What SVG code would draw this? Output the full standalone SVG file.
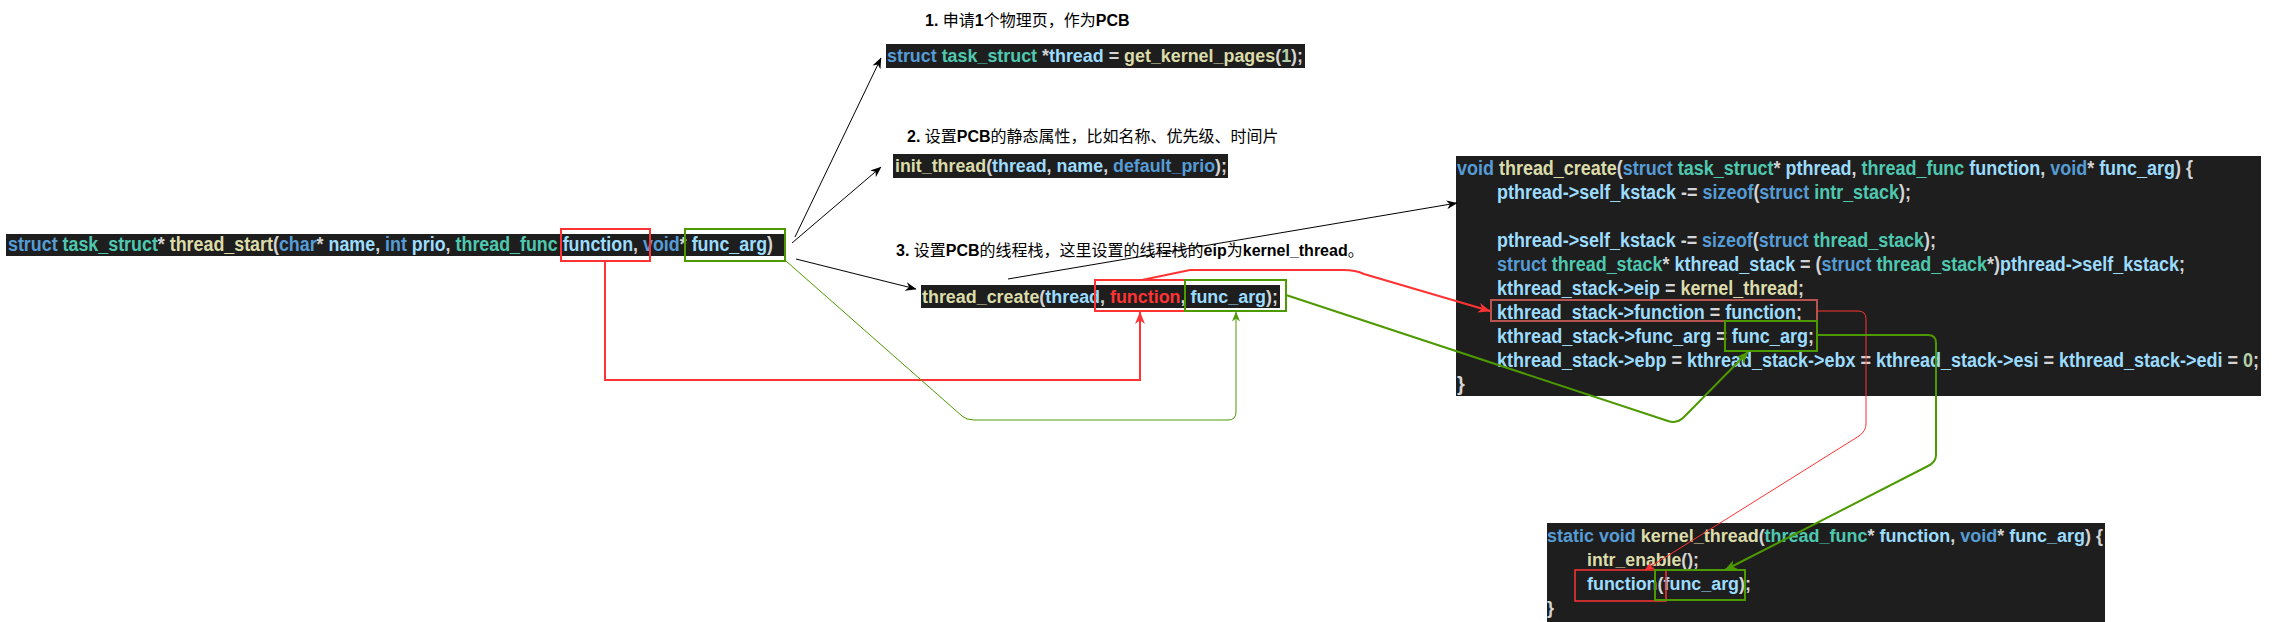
<svg xmlns="http://www.w3.org/2000/svg" width="2276" height="622" viewBox="0 0 2276 622">
<defs>
<style>
text { white-space: pre; }
.code { font-family: "Liberation Sans", Arial, sans-serif; font-weight: bold; }
.c20 { font-size: 20px; }
.c18 { font-size: 18px; }
.title { font-family: "Liberation Sans", "Noto Sans CJK SC", sans-serif; font-size: 16px; fill: #000; }
.b { font-weight: bold; }
.kw { fill: #569CD6; }
.ty { fill: #4EC9B0; }
.fn { fill: #DCDCAA; }
.va { fill: #9CDCFE; }
.pu { fill: #D4D4D4; }
.nu { fill: #B5CEA8; }
.rd { fill: #FF3333; }
.band { fill: #1E1E1E; }
.redbox { fill: none; stroke: #FF3333; stroke-width: 2; }
.grnbox { fill: none; stroke: #4D9900; stroke-width: 2; }
.blk { fill: none; stroke: #000; stroke-width: 1; }
.redln { fill: none; stroke: #FF3333; stroke-width: 2; }
.redthin { fill: none; stroke: #FF3333; stroke-width: 1; }
.grnln { fill: none; stroke: #4D9900; stroke-width: 2; }
.grnthin { fill: none; stroke: #4D9900; stroke-width: 1; }
</style>
<marker id="ahK" viewBox="0 0 10 8" refX="9.5" refY="4" markerWidth="11" markerHeight="9" markerUnits="userSpaceOnUse" orient="auto"><path d="M0,0 L10,4 L0,8 L3,4 Z" fill="#000"/></marker>
<marker id="ahR" viewBox="0 0 10 8" refX="9.5" refY="4" markerWidth="13" markerHeight="10" markerUnits="userSpaceOnUse" orient="auto"><path d="M0,0 L10,4 L0,8 L3,4 Z" fill="#FF3333"/></marker>
<marker id="ahRs" viewBox="0 0 10 8" refX="9.5" refY="4" markerWidth="10" markerHeight="8" markerUnits="userSpaceOnUse" orient="auto"><path d="M0,0 L10,4 L0,8 L3,4 Z" fill="#FF3333"/></marker>
<marker id="ahG" viewBox="0 0 10 8" refX="9.5" refY="4" markerWidth="13" markerHeight="10" markerUnits="userSpaceOnUse" orient="auto"><path d="M0,0 L10,4 L0,8 L3,4 Z" fill="#4D9900"/></marker>
<marker id="ahGs" viewBox="0 0 10 8" refX="9.5" refY="4" markerWidth="10" markerHeight="8" markerUnits="userSpaceOnUse" orient="auto"><path d="M0,0 L10,4 L0,8 L3,4 Z" fill="#4D9900"/></marker>
</defs>
<rect width="2276" height="622" fill="#fff"/>

<g id="thread_start">
<rect class="band" x="6" y="234" width="778" height="22"/>
<text class="code c20" x="8" y="251" textLength="765" lengthAdjust="spacingAndGlyphs"><tspan class="kw">struct</tspan><tspan class="ty"> task_struct</tspan><tspan class="pu">* </tspan><tspan class="fn">thread_start</tspan><tspan class="pu">(</tspan><tspan class="kw">char</tspan><tspan class="pu">* </tspan><tspan class="va">name</tspan><tspan class="pu">, </tspan><tspan class="kw">int</tspan><tspan class="va"> prio</tspan><tspan class="pu">, </tspan><tspan class="ty">thread_func</tspan><tspan class="va"> function</tspan><tspan class="pu">, </tspan><tspan class="kw">void</tspan><tspan class="pu">* </tspan><tspan class="va">func_arg</tspan><tspan class="pu">)</tspan></text>
<rect class="redbox" x="561" y="229" width="89" height="32"/>
<rect class="grnbox" x="685" y="229" width="100" height="32"/>
</g>

<g id="step1">
<text class="title" x="925" y="26"><tspan class="b">1.</tspan> 申请<tspan class="b">1</tspan>个物理页，作为<tspan class="b">PCB</tspan></text>
<rect class="band" x="886" y="44" width="419" height="24"/>
<text class="code c18" x="887" y="62" textLength="416" lengthAdjust="spacingAndGlyphs"><tspan class="kw">struct</tspan><tspan class="ty"> task_struct</tspan><tspan class="pu"> *</tspan><tspan class="va">thread</tspan><tspan class="pu"> = </tspan><tspan class="fn">get_kernel_pages</tspan><tspan class="pu">(</tspan><tspan class="nu">1</tspan><tspan class="pu">);</tspan></text>
</g>

<g id="step2">
<text class="title" x="907" y="142"><tspan class="b">2.</tspan> 设置<tspan class="b">PCB</tspan>的静态属性，比如名称、优先级、时间片</text>
<rect class="band" x="893" y="154" width="335" height="24"/>
<text class="code c18" x="895" y="172" textLength="332" lengthAdjust="spacingAndGlyphs"><tspan class="fn">init_thread</tspan><tspan class="pu">(</tspan><tspan class="va">thread</tspan><tspan class="pu">, </tspan><tspan class="va">name</tspan><tspan class="pu">, </tspan><tspan class="kw">default_prio</tspan><tspan class="pu">);</tspan></text>
</g>

<g id="step3">
<text class="title" x="896" y="256"><tspan class="b">3.</tspan> 设置<tspan class="b">PCB</tspan>的线程栈，这里设置的线程栈的<tspan class="b">eip</tspan>为<tspan class="b">kernel_thread</tspan>。</text>
<rect class="band" x="921" y="285" width="359" height="23"/>
<text class="code c18" x="922" y="303" textLength="356" lengthAdjust="spacingAndGlyphs"><tspan class="fn">thread_create</tspan><tspan class="pu">(</tspan><tspan class="va">thread</tspan><tspan class="pu">, </tspan><tspan class="rd">function</tspan><tspan class="pu">, </tspan><tspan class="va">func_arg</tspan><tspan class="pu">);</tspan></text>
<rect class="redbox" x="1095" y="280" width="90" height="31"/>
<rect class="grnbox" x="1185" y="280" width="101" height="31"/>
</g>

<g id="thread_create_def">
<rect class="band" x="1456" y="156" width="805" height="240"/>
<text class="code c20" x="1457" y="175" textLength="736" lengthAdjust="spacingAndGlyphs"><tspan class="kw">void</tspan><tspan class="fn"> thread_create</tspan><tspan class="pu">(</tspan><tspan class="kw">struct</tspan><tspan class="ty"> task_struct</tspan><tspan class="pu">*</tspan><tspan class="va"> pthread</tspan><tspan class="pu">, </tspan><tspan class="ty">thread_func</tspan><tspan class="va"> function</tspan><tspan class="pu">, </tspan><tspan class="kw">void</tspan><tspan class="pu">*</tspan><tspan class="va"> func_arg</tspan><tspan class="pu">) {</tspan></text>
<text class="code c20" x="1497" y="199" textLength="414" lengthAdjust="spacingAndGlyphs"><tspan class="va">pthread-&gt;self_kstack</tspan><tspan class="pu"> -= </tspan><tspan class="kw">sizeof</tspan><tspan class="pu">(</tspan><tspan class="kw">struct</tspan><tspan class="ty"> intr_stack</tspan><tspan class="pu">);</tspan></text>
<text class="code c20" x="1497" y="247" textLength="439" lengthAdjust="spacingAndGlyphs"><tspan class="va">pthread-&gt;self_kstack</tspan><tspan class="pu"> -= </tspan><tspan class="kw">sizeof</tspan><tspan class="pu">(</tspan><tspan class="kw">struct</tspan><tspan class="ty"> thread_stack</tspan><tspan class="pu">);</tspan></text>
<text class="code c20" x="1497" y="271" textLength="688" lengthAdjust="spacingAndGlyphs"><tspan class="kw">struct</tspan><tspan class="ty"> thread_stack</tspan><tspan class="pu">*</tspan><tspan class="va"> kthread_stack</tspan><tspan class="pu"> = (</tspan><tspan class="kw">struct</tspan><tspan class="ty"> thread_stack</tspan><tspan class="pu">*)</tspan><tspan class="va">pthread-&gt;self_kstack</tspan><tspan class="pu">;</tspan></text>
<text class="code c20" x="1497" y="295" textLength="307" lengthAdjust="spacingAndGlyphs"><tspan class="va">kthread_stack-&gt;eip</tspan><tspan class="pu"> = </tspan><tspan class="fn">kernel_thread</tspan><tspan class="pu">;</tspan></text>
<text class="code c20" x="1497" y="319" textLength="305" lengthAdjust="spacingAndGlyphs"><tspan class="va">kthread_stack-&gt;function</tspan><tspan class="pu"> = </tspan><tspan class="va">function</tspan><tspan class="pu">;</tspan></text>
<text class="code c20" x="1497" y="343" textLength="317" lengthAdjust="spacingAndGlyphs"><tspan class="va">kthread_stack-&gt;func_arg</tspan><tspan class="pu"> = </tspan><tspan class="va">func_arg</tspan><tspan class="pu">;</tspan></text>
<text class="code c20" x="1497" y="367" textLength="762" lengthAdjust="spacingAndGlyphs"><tspan class="va">kthread_stack-&gt;ebp</tspan><tspan class="pu"> = </tspan><tspan class="va">kthread_stack-&gt;ebx</tspan><tspan class="pu"> = </tspan><tspan class="va">kthread_stack-&gt;esi</tspan><tspan class="pu"> = </tspan><tspan class="va">kthread_stack-&gt;edi</tspan><tspan class="pu"> = </tspan><tspan class="nu">0</tspan><tspan class="pu">;</tspan></text>
<text class="code c20 pu" x="1457" y="391">}</text>
<rect x="1491" y="300" width="326" height="21" fill="none" stroke="#B85450" stroke-width="2"/>
<rect class="grnbox" x="1725" y="321" width="92" height="30"/>
</g>

<g id="kernel_thread_def">
<rect class="band" x="1547" y="523" width="558" height="99"/>
<text class="code c18" x="1547" y="542" textLength="556" lengthAdjust="spacingAndGlyphs"><tspan class="kw">static void</tspan><tspan class="fn"> kernel_thread</tspan><tspan class="pu">(</tspan><tspan class="ty">thread_func</tspan><tspan class="pu">*</tspan><tspan class="va"> function</tspan><tspan class="pu">, </tspan><tspan class="kw">void</tspan><tspan class="pu">*</tspan><tspan class="va"> func_arg</tspan><tspan class="pu">) {</tspan></text>
<text class="code c18" x="1587" y="566" textLength="112" lengthAdjust="spacingAndGlyphs"><tspan class="fn">intr_enable</tspan><tspan class="pu">();</tspan></text>
<text class="code c18" x="1587" y="590" textLength="164" lengthAdjust="spacingAndGlyphs"><tspan class="va">function</tspan><tspan class="pu">(</tspan><tspan class="va">func_arg</tspan><tspan class="pu">);</tspan></text>
<text class="code c18 pu" x="1547" y="614">}</text>
<rect x="1575" y="570" width="91" height="31" fill="none" stroke="#FF3333" stroke-width="1.5"/>
<rect class="grnbox" x="1655" y="570" width="90" height="30"/>
</g>

<g id="connectors">
<path class="blk" d="M795,237 L881,58" marker-end="url(#ahK)"/>
<path class="blk" d="M792,243 L881,167" marker-end="url(#ahK)"/>
<path class="blk" d="M796,259 L916,289" marker-end="url(#ahK)"/>
<path class="blk" d="M1008,279 L1457,203" marker-end="url(#ahK)"/>
<path class="redln" d="M605,261 L605,380 L1140,380 L1140,312" marker-end="url(#ahR)"/>
<path class="grnthin" d="M786,261 L962,416 Q966,420 974,420 L1228,420 Q1236,420 1236,412 L1236,312" marker-end="url(#ahGs)"/>
<path class="redln" d="M1142,280 L1190,270 L1343,270 Q1356,270 1364,274 L1490,311" marker-end="url(#ahR)"/>
<path class="grnln" d="M1286,295 L1668,421 Q1677,424 1684,417 L1748,352" marker-end="url(#ahG)"/>
<path class="redthin" d="M1817,311 L1858,311 Q1866,311 1866,319 L1866,424 Q1866,431 1859,436 L1645,570" marker-end="url(#ahRs)"/>
<path class="grnln" d="M1817,335 L1928,335 Q1936,335 1936,343 L1936,455 Q1936,462 1928,466 L1725,570" marker-end="url(#ahG)"/>
</g>
</svg>
